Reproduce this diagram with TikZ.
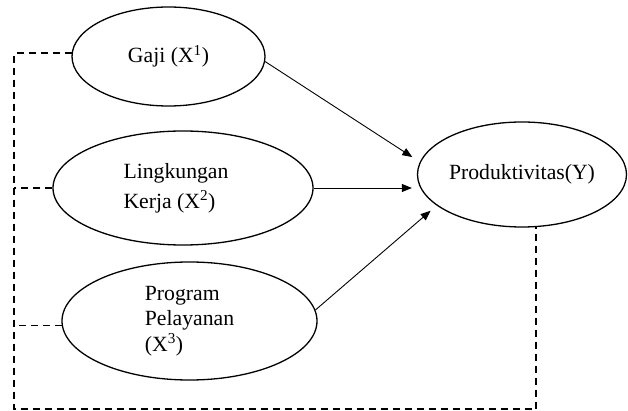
\documentclass[tikz,border=0pt]{standalone}
\usepackage{fontspec}
\setmainfont{Liberation Serif}
\usetikzlibrary{shapes.geometric,arrows.meta}
\tikzset{
  ell/.style={ellipse, draw, line width=1.3pt, inner sep=0pt, align=left,
    font=\fontsize{21.7}{25.5}\selectfont},
  arr/.style={line width=0.9pt, -{Triangle[length=10pt,width=8pt]}},
  dsh/.style={line width=1.3pt, dash pattern=on 7pt off 5pt}
}
\begin{document}
\begin{tikzpicture}[x=1pt,y=-1pt]
\useasboundingbox (0,0) rectangle (628,411);
\node[ell, minimum width=193pt, minimum height=99pt] (g) at (168.5,56.5) {Gaji (X\textsuperscript{1})};
\node[ell, minimum width=260pt, minimum height=114pt] (l) at (183,188) {Lingkungan\hspace*{14pt}\\[4.5pt]Kerja (X\textsuperscript{2})};
\node[ell, minimum width=255pt, minimum height=118pt] (p) at (189.5,321) {Program\\Pelayanan\hspace*{5pt}\\(X\textsuperscript{3})};
\node[ell, minimum width=209pt, minimum height=105pt] (y) at (522,174.5) {Produktivitas(Y)};
\coordinate (bl) at (14,409);
\draw[arr, shorten >=9pt] (g.-3) -- (y.173);
\draw[arr, shorten >=5pt] (l.east) -- (l.east -| y.west);
\draw[arr, shorten >=8pt] (p.5) -- (y.200);
\draw[dsh] (g.178) -| (bl) -| (y.-75);
\draw[dsh] (l.west) -- (l.west -| bl);
\draw[dsh] (p.182) -- (p.182 -| bl);
\end{tikzpicture}
\end{document}
